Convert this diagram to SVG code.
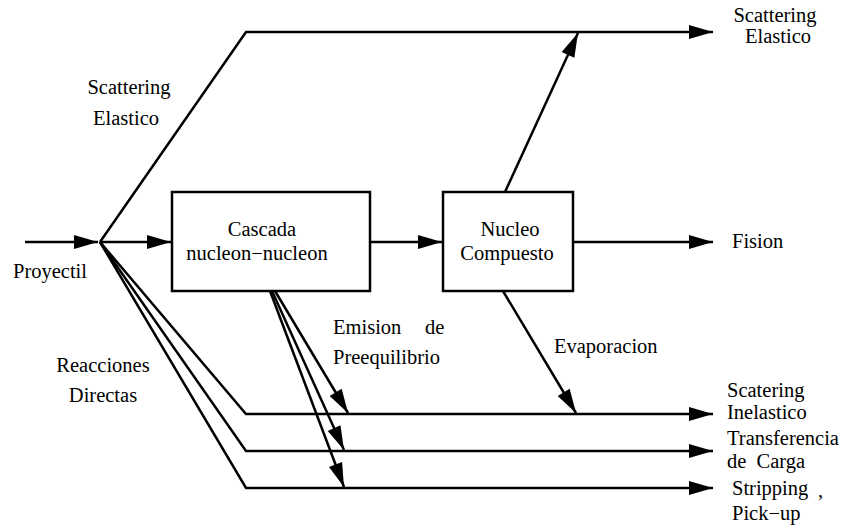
<svg xmlns="http://www.w3.org/2000/svg" width="845" height="531" viewBox="0 0 845 531">
<defs>
<marker id="ah" markerUnits="userSpaceOnUse" markerWidth="24" markerHeight="14" refX="24" refY="7" orient="auto" overflow="visible">
<path d="M0,0 L24,7 L0,14 z" fill="#000"/>
</marker>
<style>
.ln{fill:none;stroke:#000;stroke-width:2.5;marker-end:url(#ah)}
.box{fill:#fff;stroke:#000;stroke-width:2.5}
.t{font-family:'Liberation Serif','Times New Roman',serif;font-size:20.5px;fill:#000}
.c{text-anchor:middle}
</style>
</defs>
<rect width="845" height="531" fill="#fff"/>
<g id="connectors">
<path class="ln" d="M25,242 L98,242"/>
<path class="ln" d="M100,242 L171,242"/>
<path class="ln" d="M100,242 L246,32 L713,32"/>
<path class="ln" d="M100,242 L246,414 L713,414"/>
<path class="ln" d="M100,242 L246,451 L713,451"/>
<path class="ln" d="M100,242 L246,488 L713,488"/>
<path class="ln" d="M370,242 L442,242"/>
<path class="ln" d="M573,242 L713,242"/>
<path class="ln" d="M505,192 L578,33"/>
<path class="ln" d="M503,291 L576,413"/>
<path class="ln" d="M275,291 L348,413"/>
<path class="ln" d="M272,291 L344,450"/>
<path class="ln" d="M270,291 L344,487"/>
</g>
<g id="cascada">
<rect class="box" x="172" y="192" width="198" height="99"/>
<text class="t c" x="262" y="236">Cascada</text>
<text class="t c" x="257" y="260">nucleon−nucleon</text>
</g>
<g id="nucleo">
<rect class="box" x="443" y="192" width="130" height="99"/>
<text class="t c" x="510" y="236">Nucleo</text>
<text class="t c" x="507" y="260">Compuesto</text>
</g>
<g id="labels">
<text class="t c" x="129" y="94">Scattering</text>
<text class="t c" x="126" y="125">Elastico</text>
<text class="t" x="13" y="278">Proyectil</text>
<text class="t c" x="103" y="372">Reacciones</text>
<text class="t c" x="103" y="402">Directas</text>
<text class="t" x="333" y="334">Emision</text>
<text class="t" x="425" y="334">de</text>
<text class="t" x="333" y="364">Preequilibrio</text>
<text class="t" x="554" y="353">Evaporacion</text>
<text class="t c" x="775" y="22">Scattering</text>
<text class="t c" x="778" y="43">Elastico</text>
<text class="t" x="732" y="248">Fision</text>
<text class="t" x="727" y="397">Scatering</text>
<text class="t" x="727" y="419">Inelastico</text>
<text class="t" x="727" y="445">Transferencia</text>
<text class="t" x="727" y="468" xml:space="preserve">de  Carga</text>
<text class="t" x="732" y="495">Stripping</text>
<text class="t" x="818" y="497">,</text>
<text class="t" x="732" y="520">Pick−up</text>
</g>
</svg>
